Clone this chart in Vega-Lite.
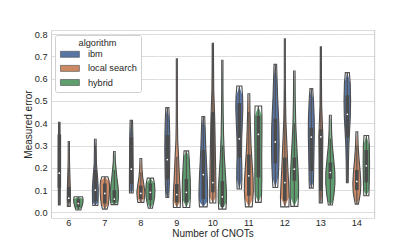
{
"$schema": "https://vega.github.io/schema/vega-lite/v6.json",
"padding": {"left": 23, "top": 29, "right": 0, "bottom": 0},
"bounds": "flush",
"data": {"values": [
{"cnots":6,"algorithm":"ibm","error":0.034,"density":0},{"cnots":6,"algorithm":"ibm","error":0.034,"density":0.19},{"cnots":6,"algorithm":"ibm","error":0.1,"density":0.21},{"cnots":6,"algorithm":"ibm","error":0.2,"density":0.19},{"cnots":6,"algorithm":"ibm","error":0.3,"density":0.17},{"cnots":6,"algorithm":"ibm","error":0.404,"density":0.15},{"cnots":6,"algorithm":"ibm","error":0.404,"density":0},
{"cnots":6,"algorithm":"local search","error":0.027,"density":0},{"cnots":6,"algorithm":"local search","error":0.027,"density":0.3},{"cnots":6,"algorithm":"local search","error":0.06,"density":0.34},{"cnots":6,"algorithm":"local search","error":0.1,"density":0.32},{"cnots":6,"algorithm":"local search","error":0.15,"density":0.25},{"cnots":6,"algorithm":"local search","error":0.2,"density":0.17},{"cnots":6,"algorithm":"local search","error":0.25,"density":0.13},{"cnots":6,"algorithm":"local search","error":0.318,"density":0.13},{"cnots":6,"algorithm":"local search","error":0.318,"density":0},
{"cnots":6,"algorithm":"hybrid","error":0.011,"density":0},{"cnots":6,"algorithm":"hybrid","error":0.011,"density":0.53},{"cnots":6,"algorithm":"hybrid","error":0.02,"density":0.63},{"cnots":6,"algorithm":"hybrid","error":0.03,"density":0.8},{"cnots":6,"algorithm":"hybrid","error":0.045,"density":0.97},{"cnots":6,"algorithm":"hybrid","error":0.06,"density":0.99},{"cnots":6,"algorithm":"hybrid","error":0.07,"density":0.88},{"cnots":6,"algorithm":"hybrid","error":0.07,"density":0},
{"cnots":7,"algorithm":"ibm","error":0.031,"density":0},{"cnots":7,"algorithm":"ibm","error":0.031,"density":0.53},{"cnots":7,"algorithm":"ibm","error":0.045,"density":0.57},{"cnots":7,"algorithm":"ibm","error":0.07,"density":0.61},{"cnots":7,"algorithm":"ibm","error":0.11,"density":0.61},{"cnots":7,"algorithm":"ibm","error":0.15,"density":0.5},{"cnots":7,"algorithm":"ibm","error":0.19,"density":0.34},{"cnots":7,"algorithm":"ibm","error":0.22,"density":0.23},{"cnots":7,"algorithm":"ibm","error":0.28,"density":0.19},{"cnots":7,"algorithm":"ibm","error":0.328,"density":0.17},{"cnots":7,"algorithm":"ibm","error":0.328,"density":0},
{"cnots":7,"algorithm":"local search","error":0.015,"density":0},{"cnots":7,"algorithm":"local search","error":0.015,"density":0.48},{"cnots":7,"algorithm":"local search","error":0.035,"density":0.74},{"cnots":7,"algorithm":"local search","error":0.06,"density":0.88},{"cnots":7,"algorithm":"local search","error":0.09,"density":0.97},{"cnots":7,"algorithm":"local search","error":0.12,"density":0.99},{"cnots":7,"algorithm":"local search","error":0.14,"density":0.9},{"cnots":7,"algorithm":"local search","error":0.16,"density":0.63},{"cnots":7,"algorithm":"local search","error":0.16,"density":0},
{"cnots":7,"algorithm":"hybrid","error":0.035,"density":0},{"cnots":7,"algorithm":"hybrid","error":0.035,"density":0.69},{"cnots":7,"algorithm":"hybrid","error":0.045,"density":0.76},{"cnots":7,"algorithm":"hybrid","error":0.065,"density":0.84},{"cnots":7,"algorithm":"hybrid","error":0.09,"density":0.86},{"cnots":7,"algorithm":"hybrid","error":0.12,"density":0.76},{"cnots":7,"algorithm":"hybrid","error":0.15,"density":0.57},{"cnots":7,"algorithm":"hybrid","error":0.19,"density":0.38},{"cnots":7,"algorithm":"hybrid","error":0.23,"density":0.21},{"cnots":7,"algorithm":"hybrid","error":0.273,"density":0.17},{"cnots":7,"algorithm":"hybrid","error":0.273,"density":0},
{"cnots":8,"algorithm":"ibm","error":0.087,"density":0},{"cnots":8,"algorithm":"ibm","error":0.087,"density":0.38},{"cnots":8,"algorithm":"ibm","error":0.1,"density":0.4},{"cnots":8,"algorithm":"ibm","error":0.15,"density":0.4},{"cnots":8,"algorithm":"ibm","error":0.25,"density":0.36},{"cnots":8,"algorithm":"ibm","error":0.35,"density":0.32},{"cnots":8,"algorithm":"ibm","error":0.413,"density":0.25},{"cnots":8,"algorithm":"ibm","error":0.413,"density":0},
{"cnots":8,"algorithm":"local search","error":0.045,"density":0},{"cnots":8,"algorithm":"local search","error":0.045,"density":0.63},{"cnots":8,"algorithm":"local search","error":0.065,"density":0.76},{"cnots":8,"algorithm":"local search","error":0.09,"density":0.84},{"cnots":8,"algorithm":"local search","error":0.12,"density":0.67},{"cnots":8,"algorithm":"local search","error":0.16,"density":0.38},{"cnots":8,"algorithm":"local search","error":0.2,"density":0.23},{"cnots":8,"algorithm":"local search","error":0.242,"density":0.19},{"cnots":8,"algorithm":"local search","error":0.242,"density":0},
{"cnots":8,"algorithm":"hybrid","error":0.019,"density":0},{"cnots":8,"algorithm":"hybrid","error":0.019,"density":0.42},{"cnots":8,"algorithm":"hybrid","error":0.045,"density":0.71},{"cnots":8,"algorithm":"hybrid","error":0.07,"density":0.9},{"cnots":8,"algorithm":"hybrid","error":0.1,"density":0.97},{"cnots":8,"algorithm":"hybrid","error":0.13,"density":0.86},{"cnots":8,"algorithm":"hybrid","error":0.154,"density":0.63},{"cnots":8,"algorithm":"hybrid","error":0.154,"density":0},
{"cnots":9,"algorithm":"ibm","error":0.067,"density":0},{"cnots":9,"algorithm":"ibm","error":0.067,"density":0.29},{"cnots":9,"algorithm":"ibm","error":0.09,"density":0.34},{"cnots":9,"algorithm":"ibm","error":0.13,"density":0.42},{"cnots":9,"algorithm":"ibm","error":0.2,"density":0.48},{"cnots":9,"algorithm":"ibm","error":0.28,"density":0.53},{"cnots":9,"algorithm":"ibm","error":0.35,"density":0.5},{"cnots":9,"algorithm":"ibm","error":0.42,"density":0.42},{"cnots":9,"algorithm":"ibm","error":0.47,"density":0.32},{"cnots":9,"algorithm":"ibm","error":0.47,"density":0},
{"cnots":9,"algorithm":"local search","error":0.022,"density":0},{"cnots":9,"algorithm":"local search","error":0.022,"density":0.71},{"cnots":9,"algorithm":"local search","error":0.05,"density":0.76},{"cnots":9,"algorithm":"local search","error":0.09,"density":0.71},{"cnots":9,"algorithm":"local search","error":0.14,"density":0.59},{"cnots":9,"algorithm":"local search","error":0.2,"density":0.46},{"cnots":9,"algorithm":"local search","error":0.27,"density":0.32},{"cnots":9,"algorithm":"local search","error":0.32,"density":0.19},{"cnots":9,"algorithm":"local search","error":0.4,"density":0.13},{"cnots":9,"algorithm":"local search","error":0.5,"density":0.11},{"cnots":9,"algorithm":"local search","error":0.6,"density":0.11},{"cnots":9,"algorithm":"local search","error":0.689,"density":0.11},{"cnots":9,"algorithm":"local search","error":0.689,"density":0},
{"cnots":9,"algorithm":"hybrid","error":0.022,"density":0},{"cnots":9,"algorithm":"hybrid","error":0.022,"density":0.71},{"cnots":9,"algorithm":"hybrid","error":0.06,"density":0.82},{"cnots":9,"algorithm":"hybrid","error":0.1,"density":0.86},{"cnots":9,"algorithm":"hybrid","error":0.15,"density":0.82},{"cnots":9,"algorithm":"hybrid","error":0.2,"density":0.69},{"cnots":9,"algorithm":"hybrid","error":0.25,"density":0.57},{"cnots":9,"algorithm":"hybrid","error":0.276,"density":0.48},{"cnots":9,"algorithm":"hybrid","error":0.276,"density":0},
{"cnots":10,"algorithm":"ibm","error":0.025,"density":0},{"cnots":10,"algorithm":"ibm","error":0.025,"density":0.8},{"cnots":10,"algorithm":"ibm","error":0.05,"density":0.88},{"cnots":10,"algorithm":"ibm","error":0.08,"density":0.92},{"cnots":10,"algorithm":"ibm","error":0.15,"density":0.84},{"cnots":10,"algorithm":"ibm","error":0.22,"density":0.67},{"cnots":10,"algorithm":"ibm","error":0.3,"density":0.5},{"cnots":10,"algorithm":"ibm","error":0.38,"density":0.38},{"cnots":10,"algorithm":"ibm","error":0.43,"density":0.29},{"cnots":10,"algorithm":"ibm","error":0.43,"density":0},
{"cnots":10,"algorithm":"local search","error":0.042,"density":0},{"cnots":10,"algorithm":"local search","error":0.042,"density":0.63},{"cnots":10,"algorithm":"local search","error":0.07,"density":0.67},{"cnots":10,"algorithm":"local search","error":0.12,"density":0.65},{"cnots":10,"algorithm":"local search","error":0.2,"density":0.59},{"cnots":10,"algorithm":"local search","error":0.3,"density":0.5},{"cnots":10,"algorithm":"local search","error":0.4,"density":0.42},{"cnots":10,"algorithm":"local search","error":0.47,"density":0.32},{"cnots":10,"algorithm":"local search","error":0.55,"density":0.19},{"cnots":10,"algorithm":"local search","error":0.65,"density":0.15},{"cnots":10,"algorithm":"local search","error":0.758,"density":0.13},{"cnots":10,"algorithm":"local search","error":0.758,"density":0},
{"cnots":10,"algorithm":"hybrid","error":0.015,"density":0},{"cnots":10,"algorithm":"hybrid","error":0.015,"density":0.76},{"cnots":10,"algorithm":"hybrid","error":0.045,"density":0.84},{"cnots":10,"algorithm":"hybrid","error":0.08,"density":0.88},{"cnots":10,"algorithm":"hybrid","error":0.12,"density":0.8},{"cnots":10,"algorithm":"hybrid","error":0.18,"density":0.63},{"cnots":10,"algorithm":"hybrid","error":0.25,"density":0.42},{"cnots":10,"algorithm":"hybrid","error":0.35,"density":0.25},{"cnots":10,"algorithm":"hybrid","error":0.45,"density":0.17},{"cnots":10,"algorithm":"hybrid","error":0.55,"density":0.13},{"cnots":10,"algorithm":"hybrid","error":0.682,"density":0.13},{"cnots":10,"algorithm":"hybrid","error":0.682,"density":0},
{"cnots":11,"algorithm":"ibm","error":0.105,"density":0},{"cnots":11,"algorithm":"ibm","error":0.105,"density":0.46},{"cnots":11,"algorithm":"ibm","error":0.15,"density":0.55},{"cnots":11,"algorithm":"ibm","error":0.2,"density":0.53},{"cnots":11,"algorithm":"ibm","error":0.26,"density":0.46},{"cnots":11,"algorithm":"ibm","error":0.33,"density":0.5},{"cnots":11,"algorithm":"ibm","error":0.4,"density":0.63},{"cnots":11,"algorithm":"ibm","error":0.47,"density":0.74},{"cnots":11,"algorithm":"ibm","error":0.52,"density":0.69},{"cnots":11,"algorithm":"ibm","error":0.567,"density":0.53},{"cnots":11,"algorithm":"ibm","error":0.567,"density":0},
{"cnots":11,"algorithm":"local search","error":0.025,"density":0},{"cnots":11,"algorithm":"local search","error":0.025,"density":0.71},{"cnots":11,"algorithm":"local search","error":0.06,"density":0.84},{"cnots":11,"algorithm":"local search","error":0.1,"density":0.95},{"cnots":11,"algorithm":"local search","error":0.15,"density":0.9},{"cnots":11,"algorithm":"local search","error":0.22,"density":0.69},{"cnots":11,"algorithm":"local search","error":0.3,"density":0.46},{"cnots":11,"algorithm":"local search","error":0.38,"density":0.34},{"cnots":11,"algorithm":"local search","error":0.45,"density":0.25},{"cnots":11,"algorithm":"local search","error":0.532,"density":0.19},{"cnots":11,"algorithm":"local search","error":0.532,"density":0},
{"cnots":11,"algorithm":"hybrid","error":0.045,"density":0},{"cnots":11,"algorithm":"hybrid","error":0.045,"density":0.59},{"cnots":11,"algorithm":"hybrid","error":0.08,"density":0.67},{"cnots":11,"algorithm":"hybrid","error":0.15,"density":0.74},{"cnots":11,"algorithm":"hybrid","error":0.25,"density":0.71},{"cnots":11,"algorithm":"hybrid","error":0.35,"density":0.76},{"cnots":11,"algorithm":"hybrid","error":0.43,"density":0.76},{"cnots":11,"algorithm":"hybrid","error":0.477,"density":0.69},{"cnots":11,"algorithm":"hybrid","error":0.477,"density":0},
{"cnots":12,"algorithm":"ibm","error":0.112,"density":0},{"cnots":12,"algorithm":"ibm","error":0.112,"density":0.5},{"cnots":12,"algorithm":"ibm","error":0.16,"density":0.63},{"cnots":12,"algorithm":"ibm","error":0.22,"density":0.74},{"cnots":12,"algorithm":"ibm","error":0.3,"density":0.8},{"cnots":12,"algorithm":"ibm","error":0.38,"density":0.76},{"cnots":12,"algorithm":"ibm","error":0.45,"density":0.63},{"cnots":12,"algorithm":"ibm","error":0.52,"density":0.48},{"cnots":12,"algorithm":"ibm","error":0.6,"density":0.36},{"cnots":12,"algorithm":"ibm","error":0.664,"density":0.27},{"cnots":12,"algorithm":"ibm","error":0.664,"density":0},
{"cnots":12,"algorithm":"local search","error":0.025,"density":0},{"cnots":12,"algorithm":"local search","error":0.025,"density":0.86},{"cnots":12,"algorithm":"local search","error":0.07,"density":0.92},{"cnots":12,"algorithm":"local search","error":0.13,"density":0.8},{"cnots":12,"algorithm":"local search","error":0.2,"density":0.63},{"cnots":12,"algorithm":"local search","error":0.28,"density":0.48},{"cnots":12,"algorithm":"local search","error":0.35,"density":0.34},{"cnots":12,"algorithm":"local search","error":0.42,"density":0.21},{"cnots":12,"algorithm":"local search","error":0.5,"density":0.15},{"cnots":12,"algorithm":"local search","error":0.6,"density":0.11},{"cnots":12,"algorithm":"local search","error":0.779,"density":0.11},{"cnots":12,"algorithm":"local search","error":0.779,"density":0},
{"cnots":12,"algorithm":"hybrid","error":0.027,"density":0},{"cnots":12,"algorithm":"hybrid","error":0.027,"density":0.74},{"cnots":12,"algorithm":"hybrid","error":0.07,"density":0.86},{"cnots":12,"algorithm":"hybrid","error":0.12,"density":0.9},{"cnots":12,"algorithm":"hybrid","error":0.18,"density":0.8},{"cnots":12,"algorithm":"hybrid","error":0.25,"density":0.63},{"cnots":12,"algorithm":"hybrid","error":0.32,"density":0.46},{"cnots":12,"algorithm":"hybrid","error":0.4,"density":0.29},{"cnots":12,"algorithm":"hybrid","error":0.5,"density":0.19},{"cnots":12,"algorithm":"hybrid","error":0.634,"density":0.15},{"cnots":12,"algorithm":"hybrid","error":0.634,"density":0},
{"cnots":13,"algorithm":"ibm","error":0.109,"density":0},{"cnots":13,"algorithm":"ibm","error":0.109,"density":0.4},{"cnots":13,"algorithm":"ibm","error":0.14,"density":0.46},{"cnots":13,"algorithm":"ibm","error":0.2,"density":0.5},{"cnots":13,"algorithm":"ibm","error":0.28,"density":0.57},{"cnots":13,"algorithm":"ibm","error":0.35,"density":0.63},{"cnots":13,"algorithm":"ibm","error":0.42,"density":0.61},{"cnots":13,"algorithm":"ibm","error":0.5,"density":0.46},{"cnots":13,"algorithm":"ibm","error":0.556,"density":0.29},{"cnots":13,"algorithm":"ibm","error":0.556,"density":0},
{"cnots":13,"algorithm":"local search","error":0.042,"density":0},{"cnots":13,"algorithm":"local search","error":0.042,"density":0.32},{"cnots":13,"algorithm":"local search","error":0.08,"density":0.34},{"cnots":13,"algorithm":"local search","error":0.15,"density":0.36},{"cnots":13,"algorithm":"local search","error":0.25,"density":0.38},{"cnots":13,"algorithm":"local search","error":0.34,"density":0.42},{"cnots":13,"algorithm":"local search","error":0.4,"density":0.32},{"cnots":13,"algorithm":"local search","error":0.48,"density":0.17},{"cnots":13,"algorithm":"local search","error":0.6,"density":0.13},{"cnots":13,"algorithm":"local search","error":0.743,"density":0.11},{"cnots":13,"algorithm":"local search","error":0.743,"density":0},
{"cnots":13,"algorithm":"hybrid","error":0.033,"density":0},{"cnots":13,"algorithm":"hybrid","error":0.033,"density":0.42},{"cnots":13,"algorithm":"hybrid","error":0.05,"density":0.55},{"cnots":13,"algorithm":"hybrid","error":0.08,"density":0.76},{"cnots":13,"algorithm":"hybrid","error":0.13,"density":0.97},{"cnots":13,"algorithm":"hybrid","error":0.18,"density":0.95},{"cnots":13,"algorithm":"hybrid","error":0.24,"density":0.69},{"cnots":13,"algorithm":"hybrid","error":0.3,"density":0.42},{"cnots":13,"algorithm":"hybrid","error":0.36,"density":0.27},{"cnots":13,"algorithm":"hybrid","error":0.436,"density":0.19},{"cnots":13,"algorithm":"hybrid","error":0.436,"density":0},
{"cnots":14,"algorithm":"ibm","error":0.133,"density":0},{"cnots":14,"algorithm":"ibm","error":0.133,"density":0.19},{"cnots":14,"algorithm":"ibm","error":0.22,"density":0.23},{"cnots":14,"algorithm":"ibm","error":0.3,"density":0.32},{"cnots":14,"algorithm":"ibm","error":0.36,"density":0.46},{"cnots":14,"algorithm":"ibm","error":0.43,"density":0.63},{"cnots":14,"algorithm":"ibm","error":0.5,"density":0.69},{"cnots":14,"algorithm":"ibm","error":0.58,"density":0.61},{"cnots":14,"algorithm":"ibm","error":0.627,"density":0.42},{"cnots":14,"algorithm":"ibm","error":0.627,"density":0},
{"cnots":14,"algorithm":"local search","error":0.037,"density":0},{"cnots":14,"algorithm":"local search","error":0.037,"density":0.32},{"cnots":14,"algorithm":"local search","error":0.06,"density":0.53},{"cnots":14,"algorithm":"local search","error":0.09,"density":0.76},{"cnots":14,"algorithm":"local search","error":0.13,"density":0.84},{"cnots":14,"algorithm":"local search","error":0.18,"density":0.71},{"cnots":14,"algorithm":"local search","error":0.24,"density":0.46},{"cnots":14,"algorithm":"local search","error":0.3,"density":0.27},{"cnots":14,"algorithm":"local search","error":0.362,"density":0.19},{"cnots":14,"algorithm":"local search","error":0.362,"density":0},
{"cnots":14,"algorithm":"hybrid","error":0.075,"density":0},{"cnots":14,"algorithm":"hybrid","error":0.075,"density":0.53},{"cnots":14,"algorithm":"hybrid","error":0.1,"density":0.57},{"cnots":14,"algorithm":"hybrid","error":0.15,"density":0.63},{"cnots":14,"algorithm":"hybrid","error":0.22,"density":0.67},{"cnots":14,"algorithm":"hybrid","error":0.3,"density":0.63},{"cnots":14,"algorithm":"hybrid","error":0.345,"density":0.48},{"cnots":14,"algorithm":"hybrid","error":0.345,"density":0},
{"cnots":6,"algorithm":"ibm","low":0.034,"high":0.404,"q1":0.11,"q3":0.35,"median":0.176},
{"cnots":6,"algorithm":"local search","low":0.027,"high":0.2,"q1":0.045,"q3":0.115,"median":0.064},
{"cnots":6,"algorithm":"hybrid","low":0.011,"high":0.07,"q1":0.025,"q3":0.06,"median":0.04},
{"cnots":7,"algorithm":"ibm","low":0.031,"high":0.3,"q1":0.05,"q3":0.19,"median":0.1},
{"cnots":7,"algorithm":"local search","low":0.015,"high":0.16,"q1":0.04,"q3":0.13,"median":0.085},
{"cnots":7,"algorithm":"hybrid","low":0.035,"high":0.19,"q1":0.045,"q3":0.1,"median":0.06},
{"cnots":8,"algorithm":"ibm","low":0.087,"high":0.413,"q1":0.127,"q3":0.336,"median":0.194},
{"cnots":8,"algorithm":"local search","low":0.045,"high":0.18,"q1":0.06,"q3":0.12,"median":0.085},
{"cnots":8,"algorithm":"hybrid","low":0.019,"high":0.154,"q1":0.055,"q3":0.13,"median":0.09},
{"cnots":9,"algorithm":"ibm","low":0.067,"high":0.47,"q1":0.149,"q3":0.347,"median":0.237},
{"cnots":9,"algorithm":"local search","low":0.022,"high":0.25,"q1":0.045,"q3":0.127,"median":0.08},
{"cnots":9,"algorithm":"hybrid","low":0.022,"high":0.276,"q1":0.045,"q3":0.15,"median":0.09},
{"cnots":10,"algorithm":"ibm","low":0.025,"high":0.43,"q1":0.06,"q3":0.28,"median":0.17},
{"cnots":10,"algorithm":"local search","low":0.042,"high":0.758,"q1":0.09,"q3":0.45,"median":0.134},
{"cnots":10,"algorithm":"hybrid","low":0.015,"high":0.3,"q1":0.025,"q3":0.14,"median":0.07},
{"cnots":11,"algorithm":"ibm","low":0.105,"high":0.567,"q1":0.246,"q3":0.49,"median":0.33},
{"cnots":11,"algorithm":"local search","low":0.025,"high":0.45,"q1":0.075,"q3":0.26,"median":0.164},
{"cnots":11,"algorithm":"hybrid","low":0.045,"high":0.477,"q1":0.157,"q3":0.433,"median":0.35},
{"cnots":12,"algorithm":"ibm","low":0.112,"high":0.664,"q1":0.22,"q3":0.42,"median":0.316},
{"cnots":12,"algorithm":"local search","low":0.025,"high":0.55,"q1":0.052,"q3":0.246,"median":0.134},
{"cnots":12,"algorithm":"hybrid","low":0.027,"high":0.4,"q1":0.142,"q3":0.246,"median":0.194},
{"cnots":13,"algorithm":"ibm","low":0.109,"high":0.556,"q1":0.186,"q3":0.38,"median":0.338},
{"cnots":13,"algorithm":"local search","low":0.042,"high":0.743,"q1":0.097,"q3":0.373,"median":0.339},
{"cnots":13,"algorithm":"hybrid","low":0.033,"high":0.33,"q1":0.15,"q3":0.224,"median":0.179},
{"cnots":14,"algorithm":"ibm","low":0.133,"high":0.627,"q1":0.336,"q3":0.525,"median":0.44},
{"cnots":14,"algorithm":"local search","low":0.037,"high":0.3,"q1":0.1,"q3":0.19,"median":0.139},
{"cnots":14,"algorithm":"hybrid","low":0.075,"high":0.345,"q1":0.135,"q3":0.28,"median":0.209}
]},
"facet": {"column": {"field": "cnots", "type": "ordinal", "title": "Number of CNOTs",
  "header": {"labelOrient": "bottom", "titleOrient": "bottom", "labelFontSize": 9.2, "labelColor": "#262626", "labelPadding": 1, "titleFontSize": 10, "titleFontWeight": "normal", "titleColor": "#262626", "titlePadding": -10}}},
"spacing": {"column": 0},
"spec": {
  "width": 35.67, "height": 188,
  "resolve": {"scale": {"x": "independent"}},
  "layer": [
    {"transform": [{"filter": "datum.algorithm == 'ibm' && isValid(datum.density)"}],
     "mark": {"type": "area", "orient": "horizontal", "opacity": 1},
     "encoding": {
       "y": {"field": "error", "type": "quantitative", "scale": {"domain": [-0.025, 0.818], "nice": false, "zero": false},
             "axis": {"values": [-0.025, 0, 0.1, 0.2, 0.3, 0.4, 0.5, 0.6, 0.7, 0.8, 0.818], "labelExpr": "datum.value < 0 || datum.value > 0.81 ? '' : format(datum.value, '.1f')", "title": "Measured error"}},
       "x": {"field": "density", "type": "quantitative", "scale": {"domain": [-1.75, 5.75], "nice": false, "zero": false}, "axis": null},
       "x2": {"datum": 0},
       "color": {"field": "algorithm", "type": "nominal", "scale": {"domain": ["ibm", "local search", "hybrid"], "range": ["#5875a4", "#cc8963", "#5f9e6e"]},
         "legend": {"title": "algorithm", "orient": "none", "legendX": 4, "legendY": 5, "titleAnchor": "middle", "titleAlign": "center", "titleFontSize": 9.2, "titleFontWeight": "normal", "titleColor": "#262626", "titlePadding": 2, "labelFontSize": 9.2, "labelColor": "#262626", "labelOffset": 20.2, "symbolType": "M-0.84,-0.95H5.16V0.95H-0.84Z", "symbolSize": 40, "symbolStrokeColor": "#4c4c4c", "symbolStrokeWidth": 0.6, "symbolOpacity": 1, "rowPadding": 4.1, "padding": 3.5, "fillColor": "#ffffff", "strokeColor": "#d0d0d0", "cornerRadius": 2}}}},
    {"transform": [{"filter": "datum.algorithm == 'ibm' && isValid(datum.density)"}],
     "mark": {"type": "area", "orient": "horizontal", "opacity": 1},
     "encoding": {"y": {"field": "error", "type": "quantitative", "axis": {"values": [-0.025, 0, 0.1, 0.2, 0.3, 0.4, 0.5, 0.6, 0.7, 0.8, 0.818], "labelExpr": "datum.value < 0 || datum.value > 0.81 ? '' : format(datum.value, '.1f')", "title": "Measured error"}},
       "x": {"field": "density", "type": "quantitative", "scale": {"domain": [-5.75, 1.75], "nice": false, "zero": false, "reverse": true}, "axis": null},
       "x2": {"datum": 0}, "color": {"field": "algorithm", "type": "nominal"}}},
    {"transform": [{"filter": "datum.algorithm == 'ibm' && isValid(datum.density)"}],
     "mark": {"type": "line", "color": "#4c4c4c", "strokeWidth": 1.1},
     "encoding": {"y": {"field": "error", "type": "quantitative", "axis": {"values": [-0.025, 0, 0.1, 0.2, 0.3, 0.4, 0.5, 0.6, 0.7, 0.8, 0.818], "labelExpr": "datum.value < 0 || datum.value > 0.81 ? '' : format(datum.value, '.1f')", "title": "Measured error"}},
       "x": {"field": "density", "type": "quantitative", "scale": {"domain": [-1.75, 5.75], "nice": false, "zero": false}, "axis": null},
       "order": {"value": null}}},
    {"transform": [{"filter": "datum.algorithm == 'ibm' && isValid(datum.density)"}],
     "mark": {"type": "line", "color": "#4c4c4c", "strokeWidth": 1.1},
     "encoding": {"y": {"field": "error", "type": "quantitative", "axis": {"values": [-0.025, 0, 0.1, 0.2, 0.3, 0.4, 0.5, 0.6, 0.7, 0.8, 0.818], "labelExpr": "datum.value < 0 || datum.value > 0.81 ? '' : format(datum.value, '.1f')", "title": "Measured error"}},
       "x": {"field": "density", "type": "quantitative", "scale": {"domain": [-5.75, 1.75], "nice": false, "zero": false, "reverse": true}, "axis": null},
       "order": {"value": null}}},
    {"transform": [{"filter": "datum.algorithm == 'ibm' && isValid(datum.low)"}],
     "mark": {"type": "rule", "color": "#4c4c4c", "strokeWidth": 1.1},
     "encoding": {"x": {"datum": 0, "scale": {"domain": [-1.75, 5.75], "nice": false, "zero": false}, "axis": null},
       "y": {"field": "low", "type": "quantitative", "axis": {"values": [-0.025, 0, 0.1, 0.2, 0.3, 0.4, 0.5, 0.6, 0.7, 0.8, 0.818], "labelExpr": "datum.value < 0 || datum.value > 0.81 ? '' : format(datum.value, '.1f')", "title": "Measured error"}}, "y2": {"field": "high"}}},
    {"transform": [{"filter": "datum.algorithm == 'ibm' && isValid(datum.low)"}],
     "mark": {"type": "rule", "color": "#4c4c4c", "strokeWidth": 3.6},
     "encoding": {"x": {"datum": 0, "scale": {"domain": [-1.75, 5.75], "nice": false, "zero": false}, "axis": null},
       "y": {"field": "q1", "type": "quantitative", "axis": {"values": [-0.025, 0, 0.1, 0.2, 0.3, 0.4, 0.5, 0.6, 0.7, 0.8, 0.818], "labelExpr": "datum.value < 0 || datum.value > 0.81 ? '' : format(datum.value, '.1f')", "title": "Measured error"}}, "y2": {"field": "q3"}}},
    {"transform": [{"filter": "datum.algorithm == 'ibm' && isValid(datum.low)"}],
     "mark": {"type": "point", "filled": true, "color": "#ffffff", "opacity": 1, "size": 3},
     "encoding": {"x": {"datum": 0, "scale": {"domain": [-1.75, 5.75], "nice": false, "zero": false}, "axis": null},
       "y": {"field": "median", "type": "quantitative", "axis": {"values": [-0.025, 0, 0.1, 0.2, 0.3, 0.4, 0.5, 0.6, 0.7, 0.8, 0.818], "labelExpr": "datum.value < 0 || datum.value > 0.81 ? '' : format(datum.value, '.1f')", "title": "Measured error"}}}},

    {"transform": [{"filter": "datum.algorithm == 'local search' && isValid(datum.density)"}],
     "mark": {"type": "area", "orient": "horizontal", "opacity": 1},
     "encoding": {"y": {"field": "error", "type": "quantitative", "axis": {"values": [-0.025, 0, 0.1, 0.2, 0.3, 0.4, 0.5, 0.6, 0.7, 0.8, 0.818], "labelExpr": "datum.value < 0 || datum.value > 0.81 ? '' : format(datum.value, '.1f')", "title": "Measured error"}},
       "x": {"field": "density", "type": "quantitative", "scale": {"domain": [-3.75, 3.75], "nice": false, "zero": false}, "axis": null},
       "x2": {"datum": 0}, "color": {"field": "algorithm", "type": "nominal"}}},
    {"transform": [{"filter": "datum.algorithm == 'local search' && isValid(datum.density)"}],
     "mark": {"type": "area", "orient": "horizontal", "opacity": 1},
     "encoding": {"y": {"field": "error", "type": "quantitative", "axis": {"values": [-0.025, 0, 0.1, 0.2, 0.3, 0.4, 0.5, 0.6, 0.7, 0.8, 0.818], "labelExpr": "datum.value < 0 || datum.value > 0.81 ? '' : format(datum.value, '.1f')", "title": "Measured error"}},
       "x": {"field": "density", "type": "quantitative", "scale": {"domain": [-3.75, 3.75], "nice": false, "zero": false, "reverse": true}, "axis": null},
       "x2": {"datum": 0}, "color": {"field": "algorithm", "type": "nominal"}}},
    {"transform": [{"filter": "datum.algorithm == 'local search' && isValid(datum.density)"}],
     "mark": {"type": "line", "color": "#4c4c4c", "strokeWidth": 1.1},
     "encoding": {"y": {"field": "error", "type": "quantitative", "axis": {"values": [-0.025, 0, 0.1, 0.2, 0.3, 0.4, 0.5, 0.6, 0.7, 0.8, 0.818], "labelExpr": "datum.value < 0 || datum.value > 0.81 ? '' : format(datum.value, '.1f')", "title": "Measured error"}},
       "x": {"field": "density", "type": "quantitative", "scale": {"domain": [-3.75, 3.75], "nice": false, "zero": false}, "axis": null},
       "order": {"value": null}}},
    {"transform": [{"filter": "datum.algorithm == 'local search' && isValid(datum.density)"}],
     "mark": {"type": "line", "color": "#4c4c4c", "strokeWidth": 1.1},
     "encoding": {"y": {"field": "error", "type": "quantitative", "axis": {"values": [-0.025, 0, 0.1, 0.2, 0.3, 0.4, 0.5, 0.6, 0.7, 0.8, 0.818], "labelExpr": "datum.value < 0 || datum.value > 0.81 ? '' : format(datum.value, '.1f')", "title": "Measured error"}},
       "x": {"field": "density", "type": "quantitative", "scale": {"domain": [-3.75, 3.75], "nice": false, "zero": false, "reverse": true}, "axis": null},
       "order": {"value": null}}},
    {"transform": [{"filter": "datum.algorithm == 'local search' && isValid(datum.low)"}],
     "mark": {"type": "rule", "color": "#4c4c4c", "strokeWidth": 1.1},
     "encoding": {"x": {"datum": 0, "scale": {"domain": [-3.75, 3.75], "nice": false, "zero": false}, "axis": null},
       "y": {"field": "low", "type": "quantitative", "axis": {"values": [-0.025, 0, 0.1, 0.2, 0.3, 0.4, 0.5, 0.6, 0.7, 0.8, 0.818], "labelExpr": "datum.value < 0 || datum.value > 0.81 ? '' : format(datum.value, '.1f')", "title": "Measured error"}}, "y2": {"field": "high"}}},
    {"transform": [{"filter": "datum.algorithm == 'local search' && isValid(datum.low)"}],
     "mark": {"type": "rule", "color": "#4c4c4c", "strokeWidth": 3.6},
     "encoding": {"x": {"datum": 0, "scale": {"domain": [-3.75, 3.75], "nice": false, "zero": false}, "axis": null},
       "y": {"field": "q1", "type": "quantitative", "axis": {"values": [-0.025, 0, 0.1, 0.2, 0.3, 0.4, 0.5, 0.6, 0.7, 0.8, 0.818], "labelExpr": "datum.value < 0 || datum.value > 0.81 ? '' : format(datum.value, '.1f')", "title": "Measured error"}}, "y2": {"field": "q3"}}},
    {"transform": [{"filter": "datum.algorithm == 'local search' && isValid(datum.low)"}],
     "mark": {"type": "point", "filled": true, "color": "#ffffff", "opacity": 1, "size": 3},
     "encoding": {"x": {"datum": 0, "scale": {"domain": [-3.75, 3.75], "nice": false, "zero": false}, "axis": null},
       "y": {"field": "median", "type": "quantitative", "axis": {"values": [-0.025, 0, 0.1, 0.2, 0.3, 0.4, 0.5, 0.6, 0.7, 0.8, 0.818], "labelExpr": "datum.value < 0 || datum.value > 0.81 ? '' : format(datum.value, '.1f')", "title": "Measured error"}}}},

    {"transform": [{"filter": "datum.algorithm == 'hybrid' && isValid(datum.density)"}],
     "mark": {"type": "area", "orient": "horizontal", "opacity": 1},
     "encoding": {"y": {"field": "error", "type": "quantitative", "axis": {"values": [-0.025, 0, 0.1, 0.2, 0.3, 0.4, 0.5, 0.6, 0.7, 0.8, 0.818], "labelExpr": "datum.value < 0 || datum.value > 0.81 ? '' : format(datum.value, '.1f')", "title": "Measured error"}},
       "x": {"field": "density", "type": "quantitative", "scale": {"domain": [-5.75, 1.75], "nice": false, "zero": false}, "axis": null},
       "x2": {"datum": 0}, "color": {"field": "algorithm", "type": "nominal"}}},
    {"transform": [{"filter": "datum.algorithm == 'hybrid' && isValid(datum.density)"}],
     "mark": {"type": "area", "orient": "horizontal", "opacity": 1},
     "encoding": {"y": {"field": "error", "type": "quantitative", "axis": {"values": [-0.025, 0, 0.1, 0.2, 0.3, 0.4, 0.5, 0.6, 0.7, 0.8, 0.818], "labelExpr": "datum.value < 0 || datum.value > 0.81 ? '' : format(datum.value, '.1f')", "title": "Measured error"}},
       "x": {"field": "density", "type": "quantitative", "scale": {"domain": [-1.75, 5.75], "nice": false, "zero": false, "reverse": true}, "axis": null},
       "x2": {"datum": 0}, "color": {"field": "algorithm", "type": "nominal"}}},
    {"transform": [{"filter": "datum.algorithm == 'hybrid' && isValid(datum.density)"}],
     "mark": {"type": "line", "color": "#4c4c4c", "strokeWidth": 1.1},
     "encoding": {"y": {"field": "error", "type": "quantitative", "axis": {"values": [-0.025, 0, 0.1, 0.2, 0.3, 0.4, 0.5, 0.6, 0.7, 0.8, 0.818], "labelExpr": "datum.value < 0 || datum.value > 0.81 ? '' : format(datum.value, '.1f')", "title": "Measured error"}},
       "x": {"field": "density", "type": "quantitative", "scale": {"domain": [-5.75, 1.75], "nice": false, "zero": false}, "axis": null},
       "order": {"value": null}}},
    {"transform": [{"filter": "datum.algorithm == 'hybrid' && isValid(datum.density)"}],
     "mark": {"type": "line", "color": "#4c4c4c", "strokeWidth": 1.1},
     "encoding": {"y": {"field": "error", "type": "quantitative", "axis": {"values": [-0.025, 0, 0.1, 0.2, 0.3, 0.4, 0.5, 0.6, 0.7, 0.8, 0.818], "labelExpr": "datum.value < 0 || datum.value > 0.81 ? '' : format(datum.value, '.1f')", "title": "Measured error"}},
       "x": {"field": "density", "type": "quantitative", "scale": {"domain": [-1.75, 5.75], "nice": false, "zero": false, "reverse": true}, "axis": null},
       "order": {"value": null}}},
    {"transform": [{"filter": "datum.algorithm == 'hybrid' && isValid(datum.low)"}],
     "mark": {"type": "rule", "color": "#4c4c4c", "strokeWidth": 1.1},
     "encoding": {"x": {"datum": 0, "scale": {"domain": [-5.75, 1.75], "nice": false, "zero": false}, "axis": null},
       "y": {"field": "low", "type": "quantitative", "axis": {"values": [-0.025, 0, 0.1, 0.2, 0.3, 0.4, 0.5, 0.6, 0.7, 0.8, 0.818], "labelExpr": "datum.value < 0 || datum.value > 0.81 ? '' : format(datum.value, '.1f')", "title": "Measured error"}}, "y2": {"field": "high"}}},
    {"transform": [{"filter": "datum.algorithm == 'hybrid' && isValid(datum.low)"}],
     "mark": {"type": "rule", "color": "#4c4c4c", "strokeWidth": 3.6},
     "encoding": {"x": {"datum": 0, "scale": {"domain": [-5.75, 1.75], "nice": false, "zero": false}, "axis": null},
       "y": {"field": "q1", "type": "quantitative", "axis": {"values": [-0.025, 0, 0.1, 0.2, 0.3, 0.4, 0.5, 0.6, 0.7, 0.8, 0.818], "labelExpr": "datum.value < 0 || datum.value > 0.81 ? '' : format(datum.value, '.1f')", "title": "Measured error"}}, "y2": {"field": "q3"}}},
    {"transform": [{"filter": "datum.algorithm == 'hybrid' && isValid(datum.low)"}],
     "mark": {"type": "point", "filled": true, "color": "#ffffff", "opacity": 1, "size": 3},
     "encoding": {"x": {"datum": 0, "scale": {"domain": [-5.75, 1.75], "nice": false, "zero": false}, "axis": null},
       "y": {"field": "median", "type": "quantitative", "axis": {"values": [-0.025, 0, 0.1, 0.2, 0.3, 0.4, 0.5, 0.6, 0.7, 0.8, 0.818], "labelExpr": "datum.value < 0 || datum.value > 0.81 ? '' : format(datum.value, '.1f')", "title": "Measured error"}}}},

    {"transform": [{"filter": "datum.cnots == 14 && datum.algorithm == 'hybrid' && isValid(datum.low)"}],
     "mark": {"type": "rule", "color": "#cccccc", "strokeWidth": 1},
     "encoding": {"x": {"datum": 1, "scale": {"domain": [0, 1], "nice": false, "zero": false}, "axis": null}}}
  ]
},
"config": {"view": {"stroke": null}, "font": "Liberation Sans",
  "axisY": {"grid": true, "gridColor": "#dddddd", "gridWidth": 1, "ticks": false, "domain": true, "domainColor": "#cccccc", "labelFontSize": 9.2, "labelColor": "#262626", "labelPadding": 4, "minExtent": 17, "maxExtent": 17, "titleFontSize": 10, "titleFontWeight": "normal", "titleColor": "#262626", "titlePadding": 1}}
}
